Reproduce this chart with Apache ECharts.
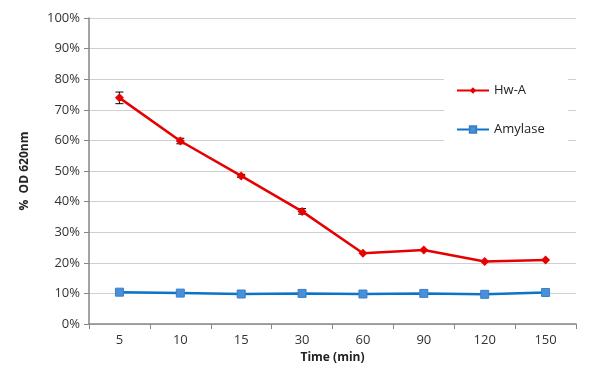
<!DOCTYPE html>
<html><head><meta charset="utf-8">
<script src="https://cdn.jsdelivr.net/npm/echarts@6/dist/echarts.min.js"></script>
<style>html,body{margin:0;padding:0;background:#fff}#c{width:591px;height:381px}</style>
</head><body><div id="c"></div>
<script>
const categories = ['5','10','15','30','60','90','120','150'];
const hwA = [73.9, 59.8, 48.4, 36.8, 23.1, 24.2, 20.4, 20.9];
const hwAErr = [1.9, 0.9, 0.5, 0.9, 0, 0, 0, 0];
const amylase = [10.4, 10.1, 9.8, 10.0, 9.8, 10.0, 9.7, 10.3];
const yTicks = [0,10,20,30,40,50,60,70,80,90,100];

const chart = echarts.init(document.getElementById('c'));
const font = 'Open Sans, Liberation Sans, sans-serif';
chart.setOption({
  animation:false,
  grid:{left:89,right:15,top:18,bottom:57},
  legend:{
    orient:'vertical', left:444, top:76, itemGap:26,
    backgroundColor:'#fff', padding:[8,23,12,12],
    itemWidth:32, itemHeight:8,
    textStyle:{fontFamily:font,fontSize:13,color:'#222'},
    data:['Hw-A','Amylase']
  },
  xAxis:{
    type:'category', data:categories, boundaryGap:true,
    name:'Time (min)', nameLocation:'middle', nameGap:27,
    nameTextStyle:{fontFamily:font,fontSize:12,fontWeight:'bold',color:'#222'},
    axisLine:{lineStyle:{color:'#868686',width:1.5}},
    axisTick:{show:true,length:5,lineStyle:{color:'#868686'}},
    axisLabel:{fontFamily:font,fontSize:13,color:'#333',margin:10}
  },
  yAxis:{
    type:'value', min:0, max:100, interval:10,
    name:'%  OD 620nm', nameLocation:'middle', nameGap:58,
    nameTextStyle:{fontFamily:font,fontSize:12,fontWeight:'bold',color:'#222'},
    axisLine:{show:true,lineStyle:{color:'#868686',width:1.5}},
    axisTick:{show:true,length:5,lineStyle:{color:'#868686'}},
    axisLabel:{fontFamily:font,fontSize:13,color:'#333',margin:9,formatter:v=>v+'%'},
    splitLine:{lineStyle:{color:'#d0d0d0',width:1}}
  },
  series:[
    {
      name:'err', type:'custom', z:2,
      data:hwA.map((v,i)=>[i, v-hwAErr[i], v+hwAErr[i]]),
      renderItem:function(params, api){
        if (api.value(2) - api.value(1) <= 0) return null;
        const x = api.value(0);
        const lo = api.coord([x, api.value(1)]);
        const hi = api.coord([x, api.value(2)]);
        const hw = 4;
        const st = {stroke:'#000',lineWidth:1};
        return {type:'group',children:[
          {type:'line',shape:{x1:lo[0],y1:lo[1],x2:hi[0],y2:hi[1]},style:st},
          {type:'line',shape:{x1:lo[0]-hw,y1:lo[1],x2:lo[0]+hw,y2:lo[1]},style:st},
          {type:'line',shape:{x1:hi[0]-hw,y1:hi[1],x2:hi[0]+hw,y2:hi[1]},style:st}
        ]};
      }
    },
    {
      name:'Hw-A', type:'line', data:hwA, z:3,
      symbol:'diamond', symbolSize:9,
      lineStyle:{color:'#e60000',width:2.5},
      itemStyle:{color:'#e60000'}
    },
    {
      name:'Amylase', type:'line', data:amylase, z:3,
      symbol:'rect', symbolSize:8,
      lineStyle:{color:'#0a74c8',width:2.5},
      itemStyle:{color:'#4a90d9',borderColor:'#3a7fc8',borderWidth:1}
    }
  ]
});
</script></body></html>
